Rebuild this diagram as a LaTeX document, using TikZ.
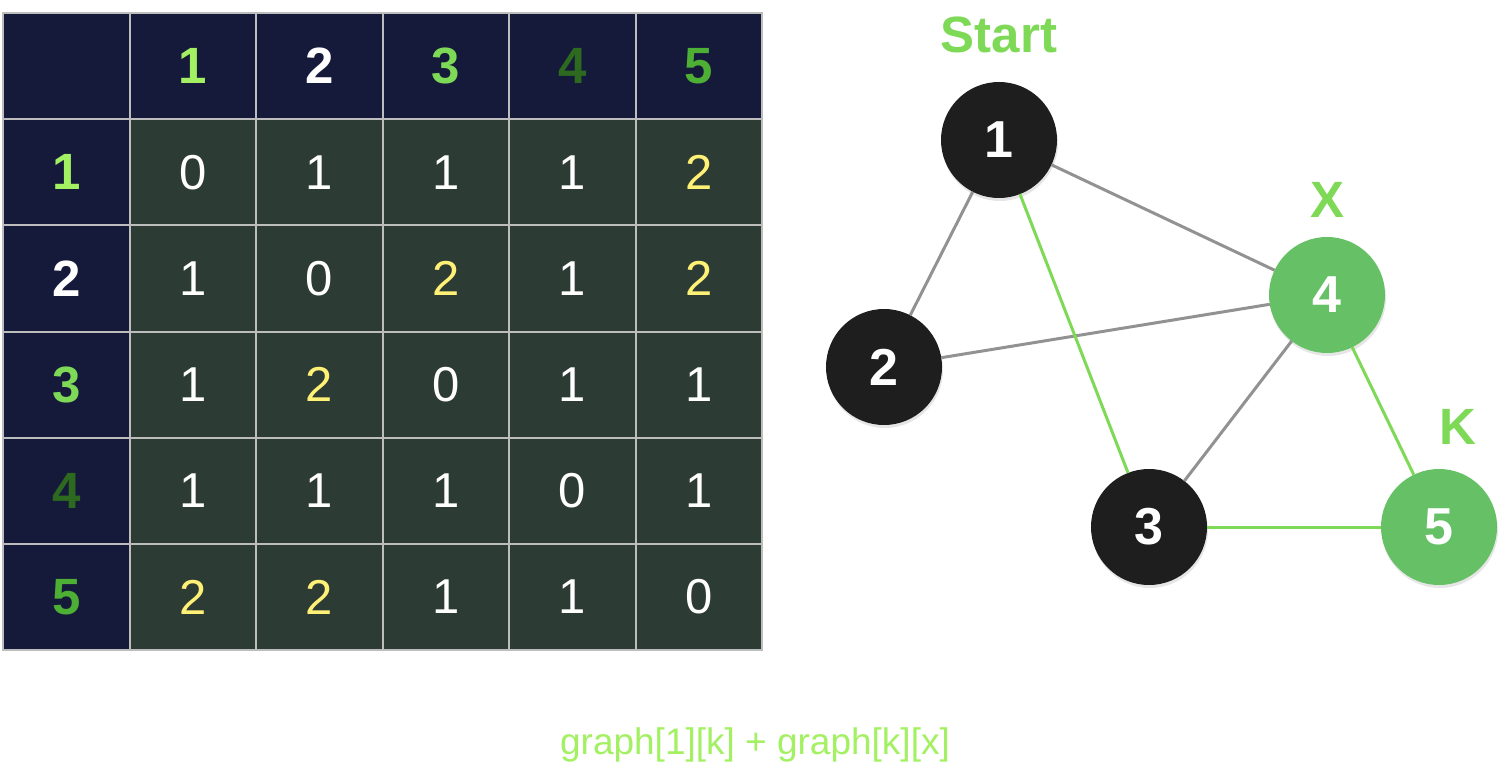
\documentclass[tikz,border=0pt]{standalone}
\usepackage{fontspec}
\setmainfont{Liberation Sans}
\usetikzlibrary{positioning,shadows}

\definecolor{headblue}{HTML}{161A3A}
\definecolor{cellgreen}{HTML}{2D3B35}
\definecolor{gridgray}{HTML}{BDBDBD}
\definecolor{numyellow}{HTML}{FFF176}
\definecolor{limegreen}{HTML}{A3F163}
\definecolor{midgreen}{HTML}{7ED957}
\definecolor{darkgreen}{HTML}{2D6A1F}
\definecolor{grassgreen}{HTML}{4DAF34}
\definecolor{nodeblack}{HTML}{1E1E1E}
\definecolor{nodegreen}{HTML}{66C166}
\definecolor{edgegray}{HTML}{929292}

\begin{document}
\begin{tikzpicture}
[x=1pt,y=-1pt,
cellbox/.style = {draw=gridgray, line width=2pt, minimum width=126.5pt, minimum height=106.2pt, inner sep=0pt, outer sep=0pt, text=white, font=\fontsize{49}{49}\selectfont},
headbox/.style = {cellbox, fill=headblue, font=\fontsize{51}{51}\selectfont\bfseries},
vertex/.style = {circle, minimum size=116pt, inner sep=0pt, outer sep=0pt, text=white, font=\fontsize{52}{52}\selectfont\bfseries, drop shadow={opacity=0.2, shadow xshift=1pt, shadow yshift=-3pt}},
tag/.style = {text=midgreen, font=\fontsize{51}{51}\selectfont\bfseries},
edge/.style = {draw=edgegray, line width=3pt},
pathedge/.style = {draw=midgreen, line width=3pt}]
\useasboundingbox (0,0) rectangle (1510,770);
% table header
\node (h0) at (66.25,66.1)[headbox] {};
\foreach \i/\c in {1/limegreen,2/white,3/midgreen,4/darkgreen,5/grassgreen}{
  \node (h\i) at ({3+126.5*(\i+0.5)},66.1)[headbox,text=\c] {\i};
  \node (r\i) at (66.25,{13+106.2*(\i+0.5)})[headbox,text=\c] {\i};
}
% table values
\foreach \r/\vals in {1/{0,1,1,1,2},2/{1,0,2,1,2},3/{1,2,0,1,1},4/{1,1,1,0,1},5/{2,2,1,1,0}}{
  \foreach \v [count=\c] in \vals{
    \node (c\r\c) at ({3+126.5*(\c+0.5)},{13+106.2*(\r+0.5)})[cellbox,fill=cellgreen] {\ifnum\v=2\color{numyellow}\fi\v};
  }
}
% graph
\node (n1) at (999,140)[vertex,fill=nodeblack] {1};
\node (n2) at (884,367)[vertex,fill=nodeblack] {2};
\node (n3) at (1149,527)[vertex,fill=nodeblack] {3};
\node (n4) at (1327,295)[vertex,fill=nodegreen] {4};
\node (n5) at (1439,527)[vertex,fill=nodegreen] {5};
\node (start) at (999,35)[tag] {Start};
\node (x) at (1327,200)[tag] {X};
\node (k) at (1458,427)[tag] {K};
\draw [edge] (n1) -- (n2);
\draw [edge] (n1) -- (n4);
\draw [edge] (n2) -- (n4);
\draw [edge] (n3) -- (n4);
\draw [pathedge] (n1) -- (n3);
\draw [pathedge] (n4) -- (n5);
\draw [pathedge] (n3) -- (n5);
\node (formula) at (755,745)[text=limegreen, font=\fontsize{37}{37}\selectfont] {graph[1][k] + graph[k][x]};
\end{tikzpicture}
\end{document}
